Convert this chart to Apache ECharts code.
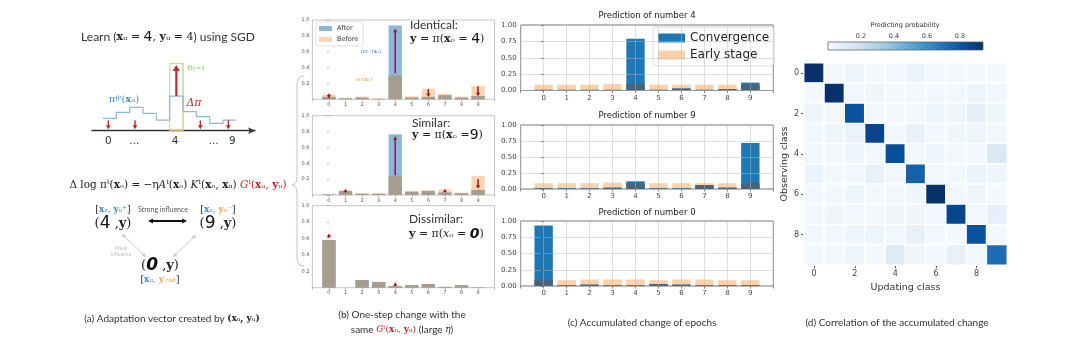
<!DOCTYPE html>
<html><head><meta charset="utf-8">
<script src="https://cdn.jsdelivr.net/npm/echarts@6/dist/echarts.min.js"></script>
<style>html,body{margin:0;padding:0;background:#fff}#c{width:1080px;height:351px}</style>
</head><body><div id="c"></div>
<script>
// ================= DATA =================
const classes = [0,1,2,3,4,5,6,7,8,9];
// (a) schematic distribution pi_theta(x_u)
const stepLevels = [0.37,0.55,0.70,0.52,0.32,1.04,0.57,0.42,0.22,0.32];
const oneHotTop = 2.02;
const aTickPos = [0.4, 2.35, 5.4, 8.3, 9.7];
const aTickLabels = ['0','...','4','...','9'];
const aDownArrows = [0.4, 2.4, 7.3, 9.4];
// (b) one-step change
const bBeforeIdentical  = [0.06,0.02,0.035,0.01,0.30,0.04,0.135,0.07,0.035,0.17];
const bAfterIdentical   = [0.03,0.01,0.02,0.005,0.93,0.02,0.03,0.05,0.02,0.04];
const bArrowsIdentical  = [[0,0.07,0.01],[4,0.33,0.89],[6,0.13,0.03],[9,0.16,0.04]];
const bBeforeSimilar    = [0.01,0.06,0.02,0.02,0.24,0.05,0.06,0.07,0.03,0.24];
const bAfterSimilar     = [0.005,0.05,0.015,0.015,0.765,0.04,0.05,0.03,0.02,0.063];
const bArrowsSimilar    = [[1,0.04,0.08],[4,0.25,0.74],[7,0.04,0.08],[9,0.20,0.08]];
const bBeforeDissimilar = [0.58,0.0,0.094,0.07,0.02,0.03,0.045,0.01,0.03,0.005];
const bAfterDissimilar  = [0.58,0.0,0.094,0.07,0.02,0.03,0.045,0.01,0.03,0.005];
const bArrowsDissimilar = [[0,0.61,0.66],[4,0.02,0.065]];
// (c) accumulated change
const cEarly4 = [0.09,0.09,0.09,0.10,0.10,0.09,0.09,0.09,0.09,0.09];
const cConv4  = [0.01,0.01,0.01,0.01,0.79,0.01,0.03,0.01,0.02,0.12];
const cEarly9 = [0.09,0.09,0.09,0.10,0.09,0.09,0.09,0.09,0.09,0.09];
const cConv9  = [0.01,0.01,0.01,0.02,0.12,0.01,0.01,0.06,0.02,0.72];
const cEarly0 = [0.10,0.09,0.10,0.10,0.10,0.09,0.10,0.10,0.09,0.09];
const cConv0  = [0.93,0.01,0.02,0.01,0.01,0.03,0.02,0.01,0.01,0.01];
const cTitles = ['Prediction of number 4','Prediction of number 9','Prediction of number 0'];
// (d) correlation matrix, rows = observing class, cols = updating class
const corr = [
 [0.97,0.03,0.04,0.02,0.02,0.06,0.03,0.03,0.02,0.02],
 [0.02,0.95,0.03,0.04,0.02,0.03,0.03,0.03,0.05,0.03],
 [0.04,0.03,0.82,0.03,0.02,0.03,0.04,0.04,0.08,0.04],
 [0.03,0.04,0.06,0.86,0.03,0.07,0.02,0.04,0.05,0.03],
 [0.03,0.03,0.04,0.03,0.83,0.03,0.04,0.03,0.03,0.14],
 [0.06,0.03,0.03,0.07,0.03,0.76,0.03,0.03,0.06,0.04],
 [0.03,0.03,0.04,0.03,0.03,0.04,0.94,0.03,0.04,0.02],
 [0.03,0.04,0.03,0.03,0.04,0.04,0.03,0.86,0.03,0.08],
 [0.03,0.03,0.04,0.05,0.03,0.07,0.03,0.02,0.82,0.02],
 [0.03,0.03,0.04,0.03,0.12,0.04,0.02,0.07,0.03,0.72]
];
const probMax = 0.94;
const blues = ['#f7fbff','#deebf7','#c6dbef','#9ecae1','#6baed6','#4292c6','#2171b5','#08519c','#08306b'];

// ================= HELPERS =================
function rectBar(color){
  return function(p, api){
    const x = api.value(0), v = api.value(1);
    const a = api.coord([x-0.4, v]), b = api.coord([x+0.4, 0]);
    return {type:'rect', shape:{x:a[0], y:a[1], width:b[0]-a[0], height:b[1]-a[1]}, style:{fill:color}};
  };
}
function barSeries(name, gi, values, color, z){
  const s = {type:'custom', xAxisIndex:gi, yAxisIndex:gi, z:z, silent:true, animation:false,
    itemStyle:{color:color}, data: values.map((v,i)=>[i,v]), renderItem: rectBar(color)};
  if (name) s.name = name;
  return s;
}
function arrowShape(p0, p1, color, lw, h){
  const dir = p1[1] < p0[1] ? -1 : 1;
  const len = Math.abs(p1[1]-p0[1]);
  const ch = [];
  if (len > h) ch.push({type:'line', shape:{x1:p0[0], y1:p0[1], x2:p1[0], y2:p1[1]-dir*h*0.8}, style:{stroke:color, lineWidth:lw}});
  ch.push({type:'polygon', shape:{points:[[p1[0],p1[1]],[p1[0]-h*0.6,p1[1]-dir*h],[p1[0]+h*0.6,p1[1]-dir*h]]}, style:{fill:color}});
  return {type:'group', children:ch};
}
function arrowSeries(gi, arr, color, lw, h, z){
  return {type:'custom', xAxisIndex:gi, yAxisIndex:gi, z:z||6, silent:true, animation:false,
    data: arr, renderItem: function(p, api){
      const x = api.value(0);
      return arrowShape(api.coord([x, api.value(1)]), api.coord([x, api.value(2)]), color, lw, h);
    }};
}
function gArrow(x1,y1,x2,y2,color,w,h,both){
  const ang = Math.atan2(y2-y1, x2-x1);
  const head = (x,y,a)=>({type:'polygon', silent:true, shape:{points:[[x,y],[x-h*Math.cos(a)+h*0.5*Math.sin(a), y-h*Math.sin(a)-h*0.5*Math.cos(a)],[x-h*Math.cos(a)-h*0.5*Math.sin(a), y-h*Math.sin(a)+h*0.5*Math.cos(a)]]}, style:{fill:color}});
  const out = [{type:'line', silent:true, shape:{x1:x1+(both?h*0.8*Math.cos(ang):0), y1:y1+(both?h*0.8*Math.sin(ang):0), x2:x2-h*0.8*Math.cos(ang), y2:y2-h*0.8*Math.sin(ang)}, style:{stroke:color, lineWidth:w}}];
  out.push(head(x2,y2,ang));
  if (both) out.push(head(x1,y1,ang+Math.PI));
  return out;
}
function mathRich(sz){
  const S='DejaVu Serif';
  return {
    t:{fontFamily:S, fontSize:sz, fill:'#222'},
    l:{fontFamily:'Lato', fontSize:sz+1, fill:'#333'},
    b:{fontFamily:S, fontWeight:'bold', fontSize:sz, fill:'#222'},
    i:{fontFamily:S, fontStyle:'italic', fontSize:sz, fill:'#222'},
    h:{fontFamily:'DejaVu Sans', fontSize:Math.round(sz*1.3), fill:'#111'},
    hi:{fontFamily:'DejaVu Sans', fontWeight:'bold', fontStyle:'italic', fontSize:Math.round(sz*1.3), fill:'#111'},
    s:{fontFamily:S, fontSize:Math.round(sz*0.7), fill:'#222'},
    r:{fontFamily:S, fontSize:sz, fill:'#c0282d'},
    rb:{fontFamily:S, fontWeight:'bold', fontSize:sz, fill:'#c0282d'},
    ri:{fontFamily:S, fontStyle:'italic', fontSize:sz, fill:'#c0282d'},
    bl:{fontFamily:S, fontSize:sz, fill:'#3d8ad0'},
    blb:{fontFamily:S, fontWeight:'bold', fontSize:sz, fill:'#3d8ad0'},
    bls:{fontFamily:S, fontSize:Math.round(sz*0.7), fill:'#3d8ad0'},
    org:{fontFamily:S, fontSize:sz, fill:'#f0a24a'},
    orgb:{fontFamily:S, fontWeight:'bold', fontSize:sz, fill:'#f0a24a'},
    orgs:{fontFamily:S, fontSize:Math.round(sz*0.7), fill:'#f0a24a'},
    g:{fontFamily:S, fontSize:sz, fill:'#9acd68'},
    gs:{fontFamily:S, fontSize:Math.round(sz*0.7), fill:'#9acd68'}
  };
}
function T(x, y, text, st){
  return {type:'text', x:x, y:y, silent:true, z:50,
    style:Object.assign({text:text, align:'center', verticalAlign:'middle', fill:'#333', fontSize:10, fontFamily:'Lato'}, st||{})};
}
function M(x, y, text, sz, align){
  return {type:'text', x:x, y:y, silent:true, z:50,
    style:{text:text, align:align||'center', verticalAlign:'middle', rich:mathRich(sz), fontSize:sz, fontFamily:'DejaVu Serif', fill:'#222'}};
}

// ================= LAYOUT =================
const grids = [
  {left:92, top:60.7, width:163, height:70, show:false},                                   // 0 (a)
  {left:312.4, top:20, width:182.2, height:79.3, show:true, borderColor:'#aaa', borderWidth:0.7}, // 1
  {left:312.4, top:115.7, width:182.2, height:79.3, show:true, borderColor:'#aaa', borderWidth:0.7},
  {left:312.4, top:205.7, width:182.2, height:82, show:true, borderColor:'#aaa', borderWidth:0.7},
  {left:520.7, top:25, width:252.6, height:65.5, show:true, borderColor:'#555', borderWidth:0.8}, // 4
  {left:520.7, top:125, width:252.6, height:64, show:true, borderColor:'#555', borderWidth:0.8},
  {left:520.7, top:221, width:252.6, height:65, show:true, borderColor:'#555', borderWidth:0.8},
  {left:804, top:63, width:203, height:202, show:true, borderColor:'#666', borderWidth:0.8},     // 7 heatmap
  {left:828, top:42, width:155, height:8, show:false}                                        // 8 colorbar
];
const xAxes = [], yAxes = [];
// (a)
xAxes.push({gridIndex:0, type:'value', min:-0.825, max:11.4,
  axisLine:{show:true, symbol:['none','arrow'], symbolSize:[5,7], lineStyle:{color:'#333', width:1.4}},
  axisTick:{show:false}, splitLine:{show:false},
  axisLabel:{customValues:aTickPos, fontSize:10.5, color:'#333', fontFamily:'DejaVu Sans', margin:5,
    formatter:function(v){ let bi=0; aTickPos.forEach((p,i)=>{ if (Math.abs(p-v)<Math.abs(aTickPos[bi]-v)) bi=i; }); return aTickLabels[bi]; }}});
yAxes.push({gridIndex:0, type:'value', min:0, max:2.1, show:false});
// (b)
for (let g=1; g<=3; g++){
  xAxes.push({gridIndex:g, type:'value', min:-1, max:10, interval:1,
    axisLine:{show:false}, axisTick:{show:true, length:2, lineStyle:{color:'#888', width:0.6}}, splitLine:{show:false},
    axisLabel:{fontSize:5, color:'#555', margin:3, fontFamily:'DejaVu Sans', formatter:v=>(v<0||v>9)?'':String(v)}});
  yAxes.push({gridIndex:g, type:'value', min:0, max:1, interval:0.2,
    axisLine:{show:false}, axisTick:{show:true, length:2, lineStyle:{color:'#888', width:0.6}}, splitLine:{show:false},
    axisLabel:{fontSize:5, color:'#555', margin:3, fontFamily:'DejaVu Sans', formatter:v=>v===0?'':v.toFixed(1)}});
}
// (c)
for (let g=4; g<=6; g++){
  xAxes.push({gridIndex:g, type:'value', min:-1, max:10, interval:1, z:10,
    axisLine:{show:false}, axisTick:{show:true, length:2.5, lineStyle:{color:'#555', width:0.7}},
    splitLine:{show:true, lineStyle:{color:'rgba(185,185,185,0.6)', width:0.8}},
    axisLabel:{fontSize:7, color:'#444', margin:4, fontFamily:'DejaVu Sans', formatter:v=>(v<0||v>9)?'':String(v)}});
  yAxes.push({gridIndex:g, type:'value', min:0, max:1, interval:0.25, z:10,
    axisLine:{show:false}, axisTick:{show:true, length:2.5, lineStyle:{color:'#555', width:0.7}},
    splitLine:{show:true, lineStyle:{color:'rgba(185,185,185,0.6)', width:0.8}},
    axisLabel:{fontSize:7, color:'#444', margin:4, fontFamily:'DejaVu Sans', formatter:v=>v.toFixed(2)}});
}
// (d) heatmap
xAxes.push({gridIndex:7, type:'category', data:classes.map(String),
  axisLine:{show:false}, axisTick:{show:true, interval:1, alignWithLabel:true, length:3, lineStyle:{color:'#555'}},
  axisLabel:{interval:1, fontSize:8, color:'#444', margin:5, fontFamily:'DejaVu Sans'},
  name:'Updating class', nameLocation:'middle', nameGap:18, nameTextStyle:{fontSize:9.5, color:'#333', fontFamily:'DejaVu Sans'}});
yAxes.push({gridIndex:7, type:'category', data:classes.map(String), inverse:true,
  axisLine:{show:false}, axisTick:{show:true, interval:1, alignWithLabel:true, length:3, lineStyle:{color:'#555'}},
  axisLabel:{interval:1, fontSize:8, color:'#444', margin:5, fontFamily:'DejaVu Sans'},
  name:'Observing class', nameLocation:'middle', nameGap:13, nameTextStyle:{fontSize:9.5, color:'#333', fontFamily:'DejaVu Sans'}});
// colorbar axis
xAxes.push({gridIndex:8, type:'value', min:0, max:probMax, interval:0.2, position:'top',
  axisLine:{show:false}, axisTick:{show:true, length:2, inside:false, lineStyle:{color:'#555', width:0.6}}, splitLine:{show:false},
  axisLabel:{fontSize:6.5, color:'#444', margin:2, fontFamily:'DejaVu Sans', showMaxLabel:false, formatter:v=>(v===0||v>0.85)?'':v.toFixed(1)}});
yAxes.push({gridIndex:8, type:'value', min:0, max:1, show:false});

// ================= SERIES =================
const series = [];
const cAfter='#8db6da', cBefore='#fdd5b3', cOverB='#a79d8e', cArrow='#a3161d';
// (a)
series.push({type:'line', xAxisIndex:0, yAxisIndex:0, step:'end', symbol:'none', silent:true, animation:false, z:3,
  lineStyle:{color:'#8ab8de', width:1.2},
  data: stepLevels.map((v,i)=>[i,v]).concat([[stepLevels.length, stepLevels[stepLevels.length-1]]])});
series.push({type:'custom', xAxisIndex:0, yAxisIndex:0, z:2, silent:true, animation:false,
  data:[[5, 6, oneHotTop]], renderItem:function(p, api){
    const a = api.coord([api.value(0), api.value(2)]), b = api.coord([api.value(1), 0]);
    return {type:'group', children:[
      {type:'rect', shape:{x:a[0], y:a[1], width:b[0]-a[0], height:b[1]-a[1]}, style:{fill:'none', stroke:'#ecc77e', lineWidth:1}},
      {type:'line', shape:{x1:b[0], y1:a[1], x2:b[0], y2:b[1]}, style:{stroke:'#b9d98d', lineWidth:1}}
    ]};
  }});
series.push(arrowSeries(0, [[5.5, 1.04, 1.97]], '#c0282d', 2.2, 6, 5));
series.push(arrowSeries(0, aDownArrows.map(x=>[x, 0.31, 0.04]), '#c0282d', 1.4, 4, 5));
// (b)
const bSets = [[bBeforeIdentical,bAfterIdentical,bArrowsIdentical],[bBeforeSimilar,bAfterSimilar,bArrowsSimilar],[bBeforeDissimilar,bAfterDissimilar,bArrowsDissimilar]];
bSets.forEach((s, k)=>{
  const g = k+1;
  series.push(barSeries('Before', g, s[0], cBefore, 2));
  series.push(barSeries('After', g, s[1], cAfter, 3));
  series.push(barSeries(null, g, s[0].map((v,i)=>Math.min(v, s[1][i])), cOverB, 4));
  series.push(arrowSeries(g, s[2], cArrow, 1.5, 3.5, 6));
});
// (c)
const cSets = [[cEarly4,cConv4],[cEarly9,cConv9],[cEarly0,cConv0]];
cSets.forEach((s,k)=>{
  const g = k+4;
  series.push(barSeries('Early stage', g, s[0], '#fdd1aa', 2));
  series.push(barSeries('Convergence', g, s[1], '#1f77b4', 3));
  series.push(barSeries(null, g, s[0].map((v,i)=>Math.min(v, s[1][i])), '#4b6377', 4));
});
// (d)
const heatIdx = series.length;
const heatData = [];
corr.forEach((row, r)=>row.forEach((v, c)=>heatData.push([c, r, v])));
series.push({type:'heatmap', xAxisIndex:7, yAxisIndex:7, data:heatData, silent:true, animation:false,
  itemStyle:{borderColor:'#ffffff', borderWidth:1.4}});
series.push({type:'custom', xAxisIndex:8, yAxisIndex:8, silent:true, animation:false, data:[[0, probMax]],
  renderItem:function(p, api){
    const a = api.coord([api.value(0), 1]), b = api.coord([api.value(1), 0]);
    return {type:'rect', shape:{x:a[0], y:a[1], width:b[0]-a[0], height:b[1]-a[1]},
      style:{stroke:'#555', lineWidth:0.7, fill:new echarts.graphic.LinearGradient(0,0,1,0, blues.map((c,i)=>({offset:i/(blues.length-1), color:c})))}};
  }});

// ================= TEXT / GRAPHICS =================
const gr = [];
// (a)
gr.push(M(168, 37, '{l|Learn (}{b|x}{t|ᵤ = }{h|4}{t|, }{b|y}{t|ᵤ = 4}{l|) using SGD}', 11));
gr.push(M(124, 99, '{bl|π}{bls|θᵗ}{bl|(}{blb|x}{bl|ᵤ)}', 10));
gr.push(M(194, 103, '{ri|Δπ}', 11));
gr.push(M(196, 68, '{g|e}{gs|y=4}', 9));
gr.push(M(178, 185, '{t|Δ log πᵗ(}{b|x}{t|ₒ) = −η}{i|A}{t|ᵗ(}{b|x}{t|ₒ) }{i|K}{t|ᵗ(}{b|x}{t|ₒ, }{b|x}{t|ᵤ) }{ri|G}{r|ᵗ(}{rb|x}{r|ᵤ, }{rb|y}{r|ᵤ)}', 10.5));
gr.push(M(113, 210, '{t|[}{blb|x}{bl|ᵤ, }{blb|y}{bl|ᵤ⁺}{t|]}', 9));
gr.push(T(163, 210, 'Strong influence', {fontSize:7, fill:'#555'}));
gr.push(M(218, 210, '{t|[}{blb|x}{bl|ᵤ, }{orgb|y}{org|ᵤ⁻}{t|]}', 9));
gr.push(M(113, 224, '{t|(}{h|4}{t| ,}{b|y}{t|)}', 13));
gr.push(M(218, 224, '{t|(}{h|9}{t| ,}{b|y}{t|)}', 13));
gr.push(M(160, 266, '{t|(}{hi|0}{t| ,}{b|y}{t|)}', 13));
gr.push(M(160, 280, '{t|[}{blb|x}{bl|ᵤ, }{orgb|y}{orgs|′rnd}{t|]}', 9));
gr.push(T(121, 251, 'Weak\ninfluence', {fontSize:5, fill:'#bbb', lineHeight:6}));
gArrow(148,221,187,221,'#111',2,5,true).forEach(e=>gr.push(e));
gArrow(122,234,146,257,'#c9c9c9',1,4,true).forEach(e=>gr.push(e));
gArrow(196,235,173,257,'#c9c9c9',1,4,true).forEach(e=>gr.push(e));
gr.push(M(172, 319, '{l|(a) Adaptation vector created by }{b|(x}{t|ᵤ}{b|, y}{t|ᵤ}{b|)}', 9));
// brace
const bc = '#dcbcae';
gr.push({type:'bezierCurve', silent:true, shape:{x1:304,y1:76,cpx1:297,cpy1:76,x2:297,y2:84}, style:{stroke:bc, fill:'none', lineWidth:1}});
gr.push({type:'line', silent:true, shape:{x1:297,y1:84,x2:297,y2:177}, style:{stroke:bc, lineWidth:1}});
gr.push({type:'bezierCurve', silent:true, shape:{x1:297,y1:177,cpx1:297,cpy1:184,x2:292,y2:185}, style:{stroke:bc, fill:'none', lineWidth:1}});
gr.push({type:'bezierCurve', silent:true, shape:{x1:292,y1:185,cpx1:297,cpy1:186,x2:297,y2:193}, style:{stroke:bc, fill:'none', lineWidth:1}});
gr.push({type:'line', silent:true, shape:{x1:297,y1:193,x2:297,y2:258}, style:{stroke:bc, lineWidth:1}});
gr.push({type:'bezierCurve', silent:true, shape:{x1:297,y1:258,cpx1:297,cpy1:266,x2:304,y2:266}, style:{stroke:bc, fill:'none', lineWidth:1}});
// (b)
gr.push(T(410, 25, 'Identical:', {align:'left', fontSize:12, fill:'#333'}));
gr.push(M(410, 39, '{b|y}{t| = π(}{b|x}{t|ₒ = }{h|4}{t|)}', 11, 'left'));
gr.push(T(412, 123, 'Similar:', {align:'left', fontSize:12, fill:'#333'}));
gr.push(M(412, 135, '{b|y}{t| = π(}{b|x}{t|ₒ =}{h|9}{t|)}', 11, 'left'));
gr.push(T(409, 219, 'Dissimilar:', {align:'left', fontSize:12, fill:'#333'}));
gr.push(M(409, 234, '{b|y}{t| = π(}{i|x}{t|ₒ = }{hi|0}{t|)}', 11, 'left'));
gr.push(M(371, 52, '{bl|π}{bls|θᵗ⁺¹}{bl|(}{blb|x}{bl|ₒ)}', 5.5));
gr.push(M(364, 80, '{org|π}{orgs|θᵗ}{org|(}{orgb|x}{org|ₒ)}', 5.5));
gr.push(T(402, 315, '(b) One-step change with the', {fontSize:10}));
gr.push(M(402, 330, '{l|same }{ri|G}{r|ᵗ(}{rb|x}{r|ᵤ, }{rb|y}{r|ᵤ)}{l| (large }{i|η}{l|)}', 9));
// (c)
gr.push(T(647, 16, cTitles[0], {fontSize:8.5, fontFamily:'DejaVu Sans', fill:'#222'}));
gr.push(T(647, 116, cTitles[1], {fontSize:8.5, fontFamily:'DejaVu Sans', fill:'#222'}));
gr.push(T(647, 213, cTitles[2], {fontSize:8.5, fontFamily:'DejaVu Sans', fill:'#222'}));
gr.push(T(642, 323, '(c) Accumulated change of epochs', {fontSize:10}));
// (d)
gr.push(T(905, 25, 'Predicting probability', {fontSize:6.5, fontFamily:'DejaVu Sans', fill:'#333'}));
gr.push(T(897, 323, '(d) Correlation of the accumulated change', {fontSize:10}));

const option = {
  backgroundColor:'#ffffff',
  animation:false,
  grid: grids, xAxis: xAxes, yAxis: yAxes,
  legend:[
    {data:['After','Before'], left:316, top:22, orient:'vertical', icon:'rect', itemWidth:13, itemHeight:5, itemGap:4,
     selectedMode:false, textStyle:{fontSize:6.5, color:'#333', fontFamily:'DejaVu Sans'},
     backgroundColor:'rgba(255,255,255,0.8)', borderColor:'#ccc', borderWidth:0.6, borderRadius:2, padding:[3,5,3,3]},
    {data:['Convergence','Early stage'], left:653, top:27, orient:'vertical', icon:'rect', itemWidth:27, itemHeight:9, itemGap:5,
     selectedMode:false, textStyle:{fontSize:12, color:'#222', fontFamily:'DejaVu Sans'},
     backgroundColor:'rgba(255,255,255,0.85)', borderColor:'#ccc', borderWidth:0.7, borderRadius:3, padding:[5,5,5,5]}
  ],
  visualMap:{show:false, type:'continuous', min:0, max:probMax, seriesIndex:heatIdx, inRange:{color:blues}},
  series: series,
  graphic: gr
};
const chart = echarts.init(document.getElementById('c'));
chart.setOption(option);
</script></body></html>
